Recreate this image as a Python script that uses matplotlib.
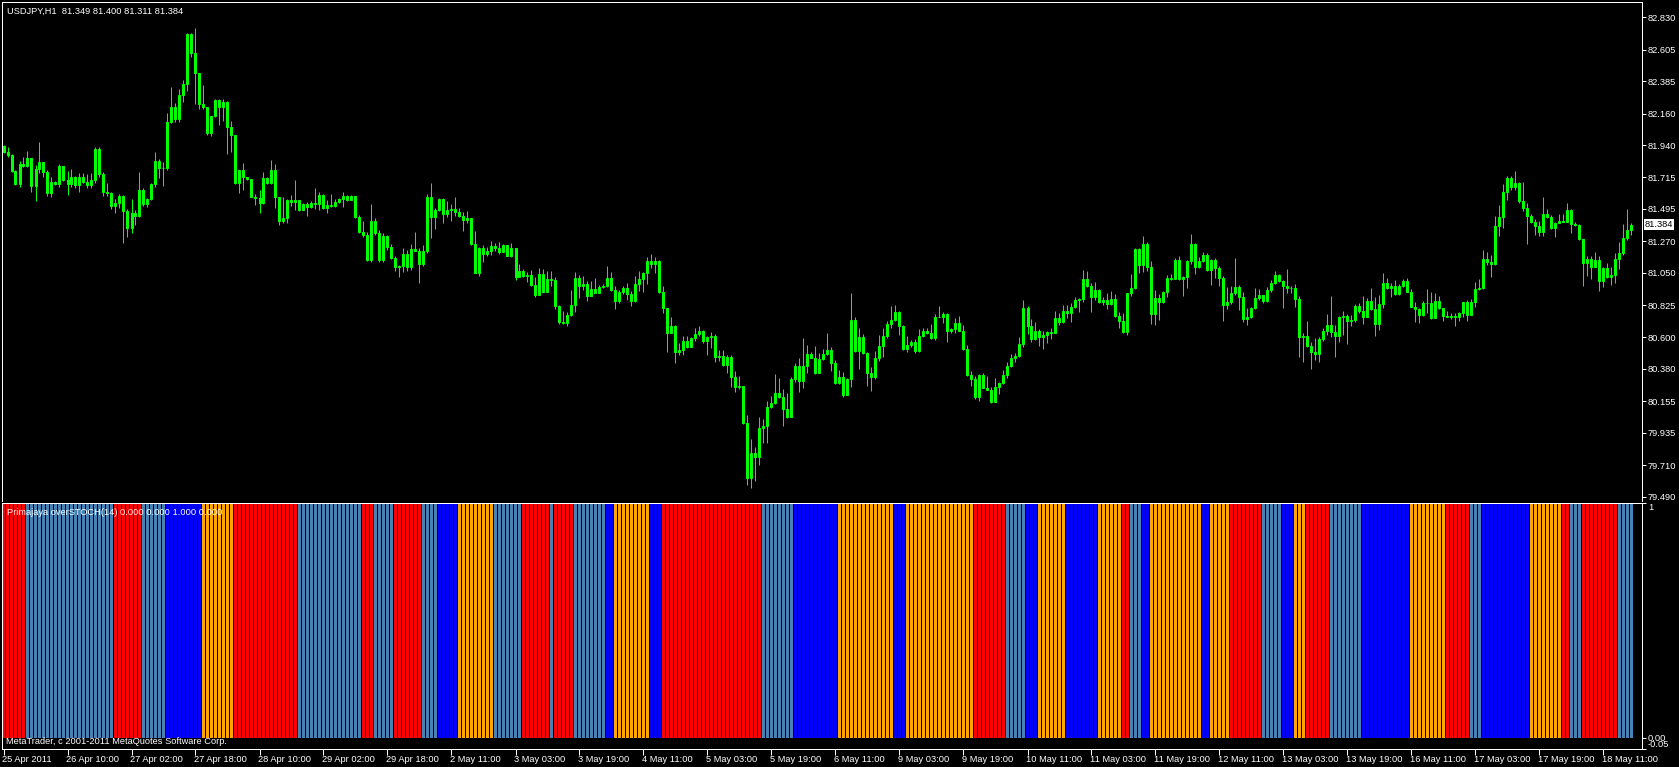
"""USDJPY H1 candles with the Primajaya overSTOCH(14) state histogram (MetaTrader look)."""

import matplotlib

matplotlib.use("Agg")
import matplotlib.pyplot as plt
from matplotlib.transforms import ScaledTranslation, blended_transform_factory

# --- data -------------------------------------------------------------------

FIRST_OPEN = 81.933

CLOSES = [
    81.891, 81.870, 81.759, 81.668, 81.808, 81.794, 81.850, 81.654, 81.773, 81.822,
    81.752, 81.606, 81.682, 81.668, 81.794, 81.696, 81.668, 81.717, 81.661, 81.717,
    81.682, 81.661, 81.696, 81.912, 81.738, 81.613, 81.606, 81.517, 81.538, 81.585,
    81.482, 81.364, 81.464, 81.447, 81.627, 81.527, 81.562, 81.668, 81.827, 81.778,
    81.782, 82.098, 82.207, 82.119, 82.287, 82.364, 82.714, 82.584, 82.440, 82.224,
    82.203, 82.022, 82.142, 82.254, 82.203, 82.240, 82.064, 82.008, 81.673, 81.766,
    81.715, 81.701, 81.580, 81.573, 81.538, 81.708, 81.673, 81.766, 81.580, 81.413,
    81.430, 81.557, 81.545, 81.557, 81.487, 81.529, 81.510, 81.538, 81.529, 81.592,
    81.499, 81.522, 81.517, 81.545, 81.562, 81.585, 81.557, 81.585, 81.440, 81.332,
    81.313, 81.139, 81.411, 81.327, 81.139, 81.306, 81.230, 81.155, 81.093, 81.097,
    81.181, 81.093, 81.214, 81.204, 81.113, 81.200, 81.578, 81.440, 81.487, 81.562,
    81.457, 81.487, 81.494, 81.476, 81.447, 81.418, 81.432, 81.251, 81.051, 81.221,
    81.181, 81.202, 81.237, 81.221, 81.197, 81.244, 81.169, 81.221, 81.023, 81.063,
    81.028, 81.035, 80.965, 80.895, 81.040, 80.918, 81.007, 80.997, 80.821, 80.709,
    80.698, 80.756, 80.826, 81.012, 80.960, 80.972, 80.890, 80.935, 80.911, 80.949,
    80.960, 81.012, 80.930, 80.855, 80.914, 80.942, 80.902, 80.855, 80.970, 81.007,
    81.046, 81.132, 81.109, 81.132, 80.918, 80.803, 80.633, 80.679, 80.500, 80.512,
    80.575, 80.535, 80.594, 80.624, 80.645, 80.575, 80.601, 80.610, 80.461, 80.470,
    80.408, 80.461, 80.326, 80.257, 80.261, 80.006, 79.622, 79.792, 79.764, 79.966,
    79.982, 80.113, 80.141, 80.211, 80.183, 80.101, 80.047, 80.310, 80.401, 80.298,
    80.401, 80.484, 80.458, 80.354, 80.447, 80.484, 80.512, 80.419, 80.280, 80.326,
    80.199, 80.310, 80.721, 80.507, 80.601, 80.493, 80.354, 80.326, 80.454, 80.540,
    80.610, 80.691, 80.721, 80.777, 80.681, 80.519, 80.545, 80.568, 80.505, 80.610,
    80.645, 80.629, 80.598, 80.740, 80.744, 80.763, 80.647, 80.656, 80.698, 80.647,
    80.519, 80.338, 80.308, 80.187, 80.338, 80.249, 80.233, 80.148, 80.254, 80.284,
    80.338, 80.401, 80.456, 80.470, 80.554, 80.803, 80.681, 80.587, 80.645, 80.601,
    80.617, 80.636, 80.633, 80.733, 80.705, 80.784, 80.768, 80.810, 80.860, 80.865,
    81.007, 80.960, 80.879, 80.930, 80.844, 80.860, 80.830, 80.865, 80.751, 80.716,
    80.639, 80.907, 80.942, 81.214, 81.104, 81.248, 81.088, 80.761, 80.872, 80.849,
    80.914, 81.012, 81.007, 81.139, 81.005, 81.019, 81.132, 81.251, 81.093, 81.132,
    81.174, 81.069, 81.139, 81.086, 81.016, 80.826, 80.844, 80.907, 80.949, 80.883,
    80.726, 80.744, 80.807, 80.872, 80.895, 80.855, 80.930, 80.977, 81.035, 80.993,
    80.960, 80.942, 80.946, 80.865, 80.601, 80.608, 80.542, 80.500, 80.482, 80.587,
    80.645, 80.686, 80.639, 80.610, 80.740, 80.749, 80.714, 80.721, 80.821, 80.786,
    80.744, 80.853, 80.796, 80.691, 80.833, 80.977, 80.946, 80.958, 80.902, 80.960,
    80.993, 80.918, 80.814, 80.796, 80.756, 80.842, 80.837, 80.733, 80.853, 80.803,
    80.751, 80.744, 80.751, 80.740, 80.768, 80.844, 80.756, 80.844, 80.935, 80.942,
    81.144, 81.127, 81.111, 81.378, 81.437, 81.611, 81.708, 81.650, 81.673, 81.550,
    81.503, 81.447, 81.406, 81.376, 81.336, 81.460, 81.440, 81.360, 81.395, 81.411,
    81.406, 81.487, 81.388, 81.383, 81.283, 81.116, 81.144, 81.093, 81.139, 80.993,
    81.081, 81.019, 81.035, 81.144, 81.186, 81.290, 81.349, 81.384,
]

HIGHS = [
    81.940, 81.928, 81.877, 81.766, 81.831, 81.858, 81.898, 81.850, 81.801, 81.961,
    81.822, 81.766, 81.715, 81.689, 81.806, 81.794, 81.761, 81.771, 81.724, 81.743,
    81.747, 81.736, 81.743, 81.928, 81.928, 81.752, 81.678, 81.613, 81.562, 81.599,
    81.592, 81.494, 81.562, 81.487, 81.752, 81.641, 81.573, 81.678, 81.891, 81.841,
    81.824, 82.161, 82.342, 82.235, 82.328, 82.393, 82.718, 82.718, 82.755, 82.440,
    82.358, 82.203, 82.142, 82.261, 82.259, 82.259, 82.247, 82.110, 82.010, 81.766,
    81.813, 81.717, 81.703, 81.599, 81.627, 81.754, 81.717, 81.836, 81.806, 81.580,
    81.580, 81.562, 81.592, 81.696, 81.557, 81.536, 81.545, 81.550, 81.639, 81.615,
    81.599, 81.557, 81.599, 81.562, 81.571, 81.611, 81.592, 81.592, 81.585, 81.452,
    81.413, 81.334, 81.529, 81.432, 81.348, 81.327, 81.313, 81.251, 81.167, 81.104,
    81.221, 81.209, 81.251, 81.334, 81.221, 81.244, 81.599, 81.673, 81.501, 81.571,
    81.571, 81.548, 81.529, 81.576, 81.503, 81.471, 81.480, 81.416, 81.341, 81.230,
    81.244, 81.228, 81.271, 81.258, 81.265, 81.248, 81.244, 81.258, 81.223, 81.111,
    81.079, 81.058, 81.069, 81.019, 81.086, 81.074, 81.063, 81.063, 81.019, 80.826,
    80.786, 80.779, 80.930, 81.053, 81.035, 81.030, 80.993, 80.993, 81.016, 80.965,
    80.972, 81.097, 81.058, 80.958, 80.930, 80.960, 80.977, 80.923, 81.030, 81.063,
    81.058, 81.158, 81.179, 81.158, 81.139, 80.958, 80.805, 80.740, 80.686, 80.559,
    80.610, 80.610, 80.605, 80.668, 80.679, 80.651, 80.610, 80.640, 80.624, 80.512,
    80.512, 80.477, 80.477, 80.366, 80.331, 80.257, 80.059, 79.892, 79.834, 80.043,
    80.029, 80.157, 80.192, 80.345, 80.315, 80.238, 80.210, 80.322, 80.422, 80.454,
    80.594, 80.547, 80.500, 80.540, 80.489, 80.517, 80.633, 80.535, 80.442, 80.373,
    80.357, 80.319, 80.911, 80.744, 80.668, 80.624, 80.498, 80.391, 80.507, 80.617,
    80.668, 80.714, 80.819, 80.826, 80.784, 80.686, 80.610, 80.582, 80.587, 80.656,
    80.663, 80.663, 80.691, 80.761, 80.819, 80.779, 80.772, 80.668, 80.737, 80.749,
    80.686, 80.547, 80.368, 80.331, 80.343, 80.350, 80.331, 80.252, 80.315, 80.289,
    80.373, 80.429, 80.484, 80.489, 80.605, 80.860, 80.819, 80.728, 80.709, 80.658,
    80.645, 80.647, 80.663, 80.784, 80.768, 80.826, 80.826, 80.837, 80.883, 80.872,
    81.069, 81.063, 80.981, 80.984, 80.935, 80.883, 80.911, 80.923, 80.900, 80.779,
    80.772, 80.911, 81.040, 81.221, 81.221, 81.306, 81.267, 81.132, 80.930, 80.900,
    80.925, 81.035, 81.042, 81.155, 81.167, 81.028, 81.139, 81.318, 81.260, 81.162,
    81.197, 81.186, 81.146, 81.153, 81.097, 81.028, 80.953, 80.958, 81.151, 80.965,
    80.918, 80.807, 80.814, 80.942, 80.935, 80.895, 80.949, 81.000, 81.063, 81.042,
    81.000, 81.076, 80.960, 80.972, 80.888, 80.633, 80.714, 80.570, 80.594, 80.603,
    80.668, 80.763, 80.888, 80.686, 80.749, 80.784, 80.763, 80.756, 80.833, 80.842,
    80.888, 80.872, 80.942, 80.879, 80.895, 81.047, 81.012, 80.977, 81.000, 80.972,
    81.005, 81.012, 80.937, 80.844, 80.807, 80.853, 80.937, 80.914, 80.907, 80.888,
    80.807, 80.784, 80.772, 80.772, 80.779, 80.849, 80.860, 80.865, 80.984, 81.005,
    81.209, 81.193, 81.174, 81.446, 81.522, 81.668, 81.724, 81.724, 81.759, 81.680,
    81.680, 81.534, 81.460, 81.425, 81.411, 81.576, 81.492, 81.452, 81.406, 81.460,
    81.460, 81.534, 81.492, 81.402, 81.388, 81.285, 81.167, 81.167, 81.193, 81.167,
    81.090, 81.116, 81.093, 81.186, 81.267, 81.390, 81.492, 81.400,
]

LOWS = [
    81.884, 81.854, 81.752, 81.661, 81.650, 81.789, 81.789, 81.615, 81.552, 81.747,
    81.717, 81.585, 81.576, 81.661, 81.650, 81.689, 81.592, 81.650, 81.639, 81.615,
    81.673, 81.639, 81.639, 81.673, 81.719, 81.585, 81.585, 81.494, 81.468, 81.499,
    81.257, 81.301, 81.329, 81.383, 81.440, 81.515, 81.506, 81.557, 81.650, 81.708,
    81.657, 81.768, 82.095, 82.102, 82.102, 82.242, 82.318, 82.551, 82.226, 82.189,
    82.193, 82.012, 82.005, 82.133, 82.080, 82.110, 81.876, 81.894, 81.666, 81.608,
    81.627, 81.696, 81.576, 81.522, 81.468, 81.529, 81.668, 81.668, 81.499, 81.383,
    81.395, 81.399, 81.517, 81.487, 81.480, 81.487, 81.447, 81.503, 81.492, 81.487,
    81.494, 81.464, 81.510, 81.510, 81.536, 81.510, 81.550, 81.564, 81.430, 81.327,
    81.297, 81.132, 81.125, 81.313, 81.125, 81.125, 81.209, 81.146, 81.063, 81.023,
    81.058, 81.065, 81.069, 81.202, 80.981, 81.097, 81.186, 81.292, 81.357, 81.480,
    81.399, 81.440, 81.413, 81.445, 81.438, 81.343, 81.395, 81.244, 81.051, 81.030,
    81.127, 81.167, 81.174, 81.204, 81.181, 81.195, 81.167, 81.162, 81.000, 81.021,
    81.021, 80.984, 80.958, 80.883, 80.895, 80.914, 80.916, 80.960, 80.798, 80.691,
    80.693, 80.681, 80.749, 80.779, 80.876, 80.930, 80.855, 80.888, 80.909, 80.909,
    80.944, 80.951, 80.923, 80.798, 80.837, 80.902, 80.860, 80.821, 80.849, 80.923,
    80.918, 80.970, 81.081, 81.051, 80.907, 80.768, 80.500, 80.631, 80.421, 80.477,
    80.477, 80.526, 80.533, 80.575, 80.610, 80.559, 80.477, 80.524, 80.431, 80.435,
    80.401, 80.354, 80.257, 80.222, 80.240, 79.997, 79.571, 79.553, 79.602, 79.711,
    79.866, 79.866, 80.108, 80.136, 80.178, 79.985, 80.038, 80.045, 80.291, 80.222,
    80.245, 80.350, 80.456, 80.345, 80.352, 80.440, 80.475, 80.368, 80.275, 80.275,
    80.187, 80.201, 80.257, 80.500, 80.378, 80.484, 80.261, 80.229, 80.308, 80.435,
    80.461, 80.594, 80.665, 80.714, 80.617, 80.512, 80.500, 80.535, 80.493, 80.498,
    80.603, 80.624, 80.589, 80.582, 80.740, 80.702, 80.570, 80.629, 80.629, 80.642,
    80.512, 80.331, 80.261, 80.171, 80.159, 80.245, 80.231, 80.143, 80.150, 80.206,
    80.275, 80.317, 80.394, 80.429, 80.461, 80.535, 80.624, 80.570, 80.582, 80.542,
    80.517, 80.559, 80.587, 80.629, 80.686, 80.700, 80.733, 80.709, 80.805, 80.779,
    80.844, 80.951, 80.779, 80.860, 80.840, 80.826, 80.796, 80.826, 80.742, 80.663,
    80.631, 80.617, 80.886, 80.937, 81.051, 81.058, 81.065, 80.693, 80.686, 80.721,
    80.840, 80.883, 81.000, 81.014, 81.000, 80.888, 80.942, 81.111, 81.042, 81.083,
    81.125, 81.063, 80.965, 81.012, 80.958, 80.716, 80.796, 80.833, 80.895, 80.791,
    80.709, 80.686, 80.735, 80.798, 80.860, 80.842, 80.849, 80.918, 80.972, 80.986,
    80.807, 80.911, 80.907, 80.814, 80.465, 80.431, 80.535, 80.378, 80.442, 80.431,
    80.575, 80.617, 80.605, 80.465, 80.570, 80.617, 80.554, 80.679, 80.707, 80.768,
    80.693, 80.819, 80.791, 80.610, 80.651, 80.803, 80.937, 80.883, 80.895, 80.895,
    80.949, 80.914, 80.810, 80.709, 80.702, 80.749, 80.768, 80.728, 80.735, 80.798,
    80.714, 80.740, 80.726, 80.679, 80.714, 80.742, 80.714, 80.754, 80.814, 80.930,
    80.935, 81.104, 81.023, 81.104, 81.306, 81.360, 81.557, 81.627, 81.627, 81.538,
    81.480, 81.251, 81.397, 81.313, 81.308, 81.308, 81.432, 81.355, 81.301, 81.395,
    81.404, 81.406, 81.329, 81.376, 81.278, 80.960, 81.028, 81.005, 81.090, 80.925,
    80.949, 81.014, 80.965, 80.977, 81.074, 81.176, 81.278, 81.311,
]

# indicator state per bar, run-length encoded
STATE_CODES = [
    "R", "S", "R", "S", "B", "O", "R", "S", "R", "S", "R", "S", "B", "O",
    "S", "R", "S", "R", "S", "B", "O", "B", "R", "S", "B", "O", "B", "O",
    "R", "S", "B", "O", "B", "O", "R", "S", "B", "O", "B", "O", "R", "S",
    "B", "O", "R", "S", "B", "O", "R", "S", "B", "O", "R", "S", "R", "S",
]
STATE_COUNTS = [
    6, 22, 7, 6, 9, 8, 16, 16, 3, 5, 7, 4, 5, 9,
    7, 7, 1, 5, 8, 2, 9, 3, 25, 8, 11, 14, 3, 17,
    8, 5, 3, 7, 8, 6, 2, 3, 2, 13, 2, 5, 8, 5,
    3, 3, 6, 8, 12, 9, 6, 3, 12, 8, 2, 3, 9, 4,
]
STATE_COLORS = {"R": "#ff0000", "S": "#4682b4", "B": "#0000ff", "O": "#ffa500"}

PRICE_TICKS = [82.830, 82.605, 82.385, 82.160, 81.940, 81.715, 81.495, 81.270,
               81.050, 80.825, 80.600, 80.380, 80.155, 79.935, 79.710, 79.490]

TIME_LABELS = [
    "25 Apr 2011", "26 Apr 10:00", "27 Apr 02:00", "27 Apr 18:00", "28 Apr 10:00",
    "29 Apr 02:00", "29 Apr 18:00", "2 May 11:00", "3 May 03:00", "3 May 19:00",
    "4 May 11:00", "5 May 03:00", "5 May 19:00", "6 May 11:00", "9 May 03:00",
    "9 May 19:00", "10 May 11:00", "11 May 03:00", "11 May 19:00", "12 May 11:00",
    "13 May 03:00", "13 May 19:00", "16 May 11:00", "17 May 03:00", "17 May 19:00",
    "18 May 11:00",
]
BARS_PER_LABEL = 16

HEADER = "USDJPY,H1  81.349 81.400 81.311 81.384"
IND_TITLE = "Primajaya overSTOCH(14) 0.000 0.000 1.000 0.000"
COPYRIGHT = "MetaTrader, c 2001-2011 MetaQuotes Software Corp."
LAST_PRICE = "81.384"

# --- drawing ------------------------------------------------------------------

W, H = 1679, 767
FONT = "Liberation Sans"
FS = 6.7
LIME = "#00ff00"
PX = 0.72  # one pixel in points at dpi 100

plt.rcParams["font.family"] = [FONT, "DejaVu Sans"]

fig = plt.figure(figsize=(W / 100, H / 100), dpi=100, facecolor="black")
ax = fig.add_axes([2 / W, 1 - 501 / H, 1639.7 / W, 499 / H], facecolor="black")
ax_ind = fig.add_axes([2 / W, 1 - 749.3 / H, 1639.7 / W, 246.6 / H], facecolor="black")

n = len(CLOSES)
xs = list(range(n))
opens = [FIRST_OPEN] + CLOSES[:-1]

for x, o, h, l, c in zip(xs, opens, HIGHS, LOWS, CLOSES):
    top = max(h, o, c)
    bot = min(l, o, c)
    ax.vlines(x, bot, top, color=LIME, linewidth=PX)
    fill = "black" if c > o else "white"
    ax.bar(x, max(abs(c - o), 0.0005), bottom=min(o, c), width=0.5,
           color=fill, edgecolor=LIME, linewidth=PX)

ax.set_xlim(-0.375, 409.55)
ax.set_ylim(79.460, 82.937)
ax.set_xticks([])
ax.yaxis.tick_right()
ax.set_yticks(PRICE_TICKS)
ax.set_yticklabels([f"{p:.3f}" for p in PRICE_TICKS])
ax.tick_params(axis="y", colors="white", length=3, width=PX, labelsize=FS, pad=1.5)
for side in ("top", "left", "right"):
    ax.spines[side].set_color("white")
    ax.spines[side].set_linewidth(PX)
ax.spines["bottom"].set_visible(False)

last_tr = blended_transform_factory(ax.transAxes, ax.transData)
ax.text(1.0, CLOSES[-1], LAST_PRICE,
        transform=last_tr + ScaledTranslation(3 / 100, 0, fig.dpi_scale_trans),
        color="black", fontsize=FS, va="center", ha="left",
        bbox=dict(boxstyle="square,pad=0.12", fc="white", ec="none"))

# indicator histogram
states = []
for code, count in zip(STATE_CODES, STATE_COUNTS):
    states.extend([code] * count)
ax_ind.bar(xs, [1.0] * n, width=0.75, color=[STATE_COLORS[s] for s in states],
           linewidth=0, antialiased=False)
ax_ind.set_xlim(-0.375, 409.55)
ax_ind.set_ylim(-0.05, 1.0)
for side in ax_ind.spines:
    ax_ind.spines[side].set_color("white")
    ax_ind.spines[side].set_linewidth(PX)

ax_ind.yaxis.tick_right()
ax_ind.set_yticks([1.0, 0.0, -0.05])
ax_ind.set_yticklabels(["1", "0.00", "-0.05"])
ax_ind.tick_params(axis="y", colors="white", length=3, width=PX, labelsize=FS, pad=1.5)
ylabels = ax_ind.get_yticklabels()
ylabels[0].set_verticalalignment("top")
ylabels[2].set_verticalalignment("bottom")

tick_bars = [BARS_PER_LABEL * k for k in range(len(TIME_LABELS))]
ax_ind.set_xticks(tick_bars)
ax_ind.set_xticklabels([""] * len(tick_bars))
ax_ind.tick_params(axis="x", colors="white", length=4, width=PX, direction="out")
lab_tr = blended_transform_factory(ax_ind.transData, ax_ind.transAxes)
lab_tr = lab_tr + ScaledTranslation(-1.5 / 100, -10 / 100, fig.dpi_scale_trans)
for b, label in zip(tick_bars, TIME_LABELS):
    ax_ind.text(b, 0, label, transform=lab_tr, color="white", fontsize=FS,
                ha="left", va="center")

fig.text(7 / W, 1 - 11 / H, HEADER, color="white", fontsize=FS, va="center")
fig.text(7 / W, 1 - 512.5 / H, IND_TITLE, color="white", fontsize=FS, va="center")
fig.text(6 / W, 1 - 742 / H, COPYRIGHT, color="white", fontsize=FS, va="center")

fig.savefig("out.png", dpi=100, facecolor="black")
